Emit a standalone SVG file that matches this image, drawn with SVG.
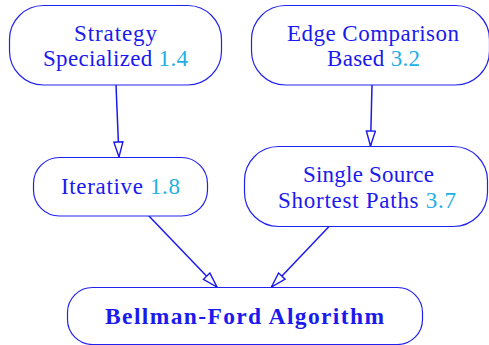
<svg xmlns="http://www.w3.org/2000/svg" width="489" height="345" viewBox="0 0 489 345">
<style>
.box{fill:#ffffff;stroke:#2222ee;stroke-width:1.2}
.t{font-family:"Liberation Serif","Times New Roman",serif;font-size:23px;fill:#1a1aee;text-anchor:middle}
.b{font-weight:bold;font-size:23.5px}
.n{fill:#22aee6}
.e{fill:none;stroke:#1a1aee;stroke-width:1.5}
</style>
<defs>
<marker id="ah" markerWidth="17" markerHeight="11" refX="16" refY="5.5" orient="auto" markerUnits="userSpaceOnUse">
<path d="M1,1 L16,5.5 L1,10 Z" fill="#ffffff" stroke="#1a1aee" stroke-width="1.4"/>
</marker>
</defs>
<rect width="489" height="345" fill="#ffffff"/>
<g id="connectors">
<line class="e" x1="116" y1="85" x2="119" y2="157" marker-end="url(#ah)"/>
<line class="e" x1="372" y1="85" x2="370.5" y2="146" marker-end="url(#ah)"/>
<line class="e" x1="147.5" y1="214.5" x2="217" y2="287" marker-end="url(#ah)"/>
<line class="e" x1="329.5" y1="226" x2="271.5" y2="287" marker-end="url(#ah)"/>
</g>
<g id="strategy">
<rect class="box" x="9.5" y="5.5" width="212" height="79.5" rx="34" ry="34"/>
<text class="t" x="115.5" y="40.5" textLength="83" lengthAdjust="spacing">Strategy</text>
<text class="t" x="115.5" y="65.5" textLength="145" lengthAdjust="spacing">Specialized <tspan class="n">1.4</tspan></text>
</g>
<g id="edgecomparison">
<rect class="box" x="251.5" y="5.5" width="238" height="79.5" rx="34" ry="34"/>
<text class="t" x="373" y="40.5" textLength="172" lengthAdjust="spacing">Edge Comparison</text>
<text class="t" x="373.5" y="65.5" textLength="93" lengthAdjust="spacing">Based <tspan class="n">3.2</tspan></text>
</g>
<g id="iterative">
<rect class="box" x="33.5" y="157.5" width="174" height="58.5" rx="26" ry="26"/>
<text class="t" x="120.5" y="194" textLength="119" lengthAdjust="spacing">Iterative <tspan class="n">1.8</tspan></text>
</g>
<g id="singlesource">
<rect class="box" x="244.5" y="146.5" width="243" height="80" rx="34" ry="34"/>
<text class="t" x="368.5" y="181.5" textLength="131" lengthAdjust="spacing">Single Source</text>
<text class="t" x="367" y="207.5" textLength="178" lengthAdjust="spacing">Shortest Paths <tspan class="n">3.7</tspan></text>
</g>
<g id="bellmanford">
<rect class="box" x="67.5" y="287.5" width="355" height="57" rx="25" ry="25"/>
<text class="t b" x="244.5" y="323.5" textLength="279" lengthAdjust="spacing">Bellman-Ford Algorithm</text>
</g>
</svg>
